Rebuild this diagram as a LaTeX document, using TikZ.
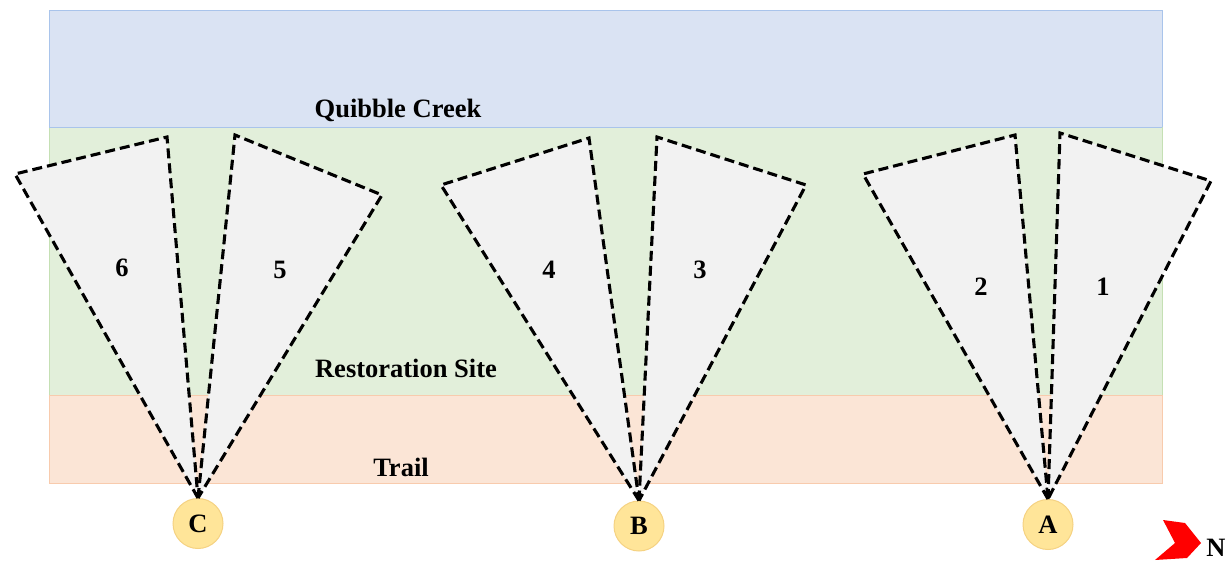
\documentclass[tikz,border=0pt]{standalone}
\usepackage{fontspec}
\setmainfont{Liberation Serif}
\definecolor{creekfill}{RGB}{218,227,243}
\definecolor{creekline}{RGB}{169,196,235}
\definecolor{sitefill}{RGB}{226,239,218}
\definecolor{siteline}{RGB}{197,224,180}
\definecolor{trailfill}{RGB}{251,229,214}
\definecolor{trailline}{RGB}{248,203,173}
\definecolor{camfill}{RGB}{255,229,153}
\definecolor{camline}{RGB}{245,210,130}
\definecolor{viewfill}{RGB}{242,242,242}
\tikzset{
  lbl/.style={font=\fontsize{26.5}{31}\selectfont\bfseries, inner sep=0pt},
  zone/.style={line width=1pt},
  view/.style={draw=black, fill=viewfill, line width=3.1pt, dash pattern=on 10pt off 5pt, line join=miter},
  cam/.style={circle, minimum size=50pt, inner sep=0pt, fill=camfill, draw=camline, line width=1pt, font=\fontsize{26.5}{31}\selectfont\bfseries},
}
\begin{document}
\begin{tikzpicture}[x=1pt,y=-1pt]
\useasboundingbox (0,0) rectangle (1231,562);
% zones
\fill[creekfill] (49,10) rectangle (1162,127);
\draw[zone,creekline] (49,10) rectangle (1162,127);
\fill[sitefill] (49,127) rectangle (1162,395);
\draw[zone,siteline] (49,127) -- (49,395) (1162,127) -- (1162,395);
\fill[trailfill] (49,395) rectangle (1162,483);
\draw[zone,trailline] (49,395) rectangle (1162,483);
\draw[zone,creekline] (49,127) -- (1162,127);
% cameras
\node[cam] (C) at (198,523.5) {C};
\node[cam] (B) at (639,526) {B};
\node[cam] (A) at (1048,524.5) {A};
% view cones
\coordinate (v6a) at (15,174);
\coordinate (v6b) at (167,137);
\coordinate (v5a) at (235,135);
\coordinate (v5b) at (382,195);
\coordinate (v4a) at (441,185);
\coordinate (v4b) at (589,138);
\coordinate (v3a) at (657,137);
\coordinate (v3b) at (806,185);
\coordinate (v2a) at (863,174);
\coordinate (v2b) at (1015,135);
\coordinate (v1a) at (1060,133);
\coordinate (v1b) at (1211,181);
\draw[view] (C.north) -- (v6a) -- (v6b) -- cycle;
\draw[view] (C.north) -- (v5a) -- (v5b) -- cycle;
\draw[view] (B.north) -- (v4a) -- (v4b) -- cycle;
\draw[view] (B.north) -- (v3a) -- (v3b) -- cycle;
\draw[view] (A.north) -- (v2a) -- (v2b) -- cycle;
\draw[view] (A.north) -- (v1a) -- (v1b) -- cycle;
% labels
\node[lbl] (t6) at (122,268) {6};
\node[lbl] (t5) at (280,270) {5};
\node[lbl] (t4) at (549,270) {4};
\node[lbl] (t3) at (700,270) {3};
\node[lbl] (t2) at (981,287) {2};
\node[lbl] (t1) at (1103,287) {1};
\node[lbl] (qc) at (398,110) {Quibble Creek};
\node[lbl] (rs) at (406,368) {Restoration Site};
\node[lbl] (tr) at (401,467) {Trail};
% north arrow
\fill[red] (1163,520) -- (1185,523) -- (1201,543) -- (1187,558) -- (1155,560) -- (1175,543) -- cycle;
\node[lbl] (N) at (1216,548) {N};
\end{tikzpicture}
\end{document}
